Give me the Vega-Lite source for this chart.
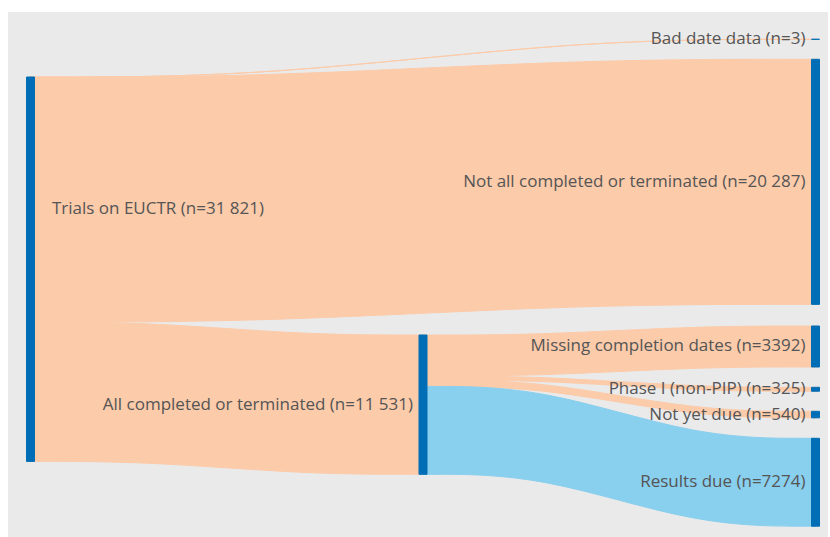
{
  "$schema": "https://vega.github.io/schema/vega-lite/v6.json",
  "width": 820,
  "height": 525,
  "autosize": {"type": "none"},
  "padding": {"left": 8, "top": 12, "right": 2, "bottom": 0},
  "background": "#ffffff",
  "config": {"view": {"stroke": null, "fill": "#eaeaea"}},
  "datasets": {
    "links": [
      {"link": "bad", "kind": "peach", "x": 0, "top": 0, "bottom": 3},
      {"link": "bad", "kind": "peach", "x": 0.6, "top": 0, "bottom": 3},
      {"link": "bad", "kind": "peach", "x": 1.4, "top": -3121, "bottom": -3118},
      {"link": "bad", "kind": "peach", "x": 2, "top": -3121, "bottom": -3118},
      {"link": "notall", "kind": "peach", "x": 0, "top": 3, "bottom": 20290},
      {"link": "notall", "kind": "peach", "x": 0.6, "top": 3, "bottom": 20290},
      {"link": "notall", "kind": "peach", "x": 1.4, "top": -1465, "bottom": 18822},
      {"link": "notall", "kind": "peach", "x": 2, "top": -1465, "bottom": 18822},
      {"link": "all", "kind": "peach", "x": 0, "top": 20290, "bottom": 31821},
      {"link": "all", "kind": "peach", "x": 0.3, "top": 20290, "bottom": 31821},
      {"link": "all", "kind": "peach", "x": 0.7, "top": 21358, "bottom": 32889},
      {"link": "all", "kind": "peach", "x": 1, "top": 21358, "bottom": 32889},
      {"link": "missing", "kind": "peach", "x": 1, "top": 21358, "bottom": 24750},
      {"link": "missing", "kind": "peach", "x": 1.3, "top": 21358, "bottom": 24750},
      {"link": "missing", "kind": "peach", "x": 1.7, "top": 20613, "bottom": 24005},
      {"link": "missing", "kind": "peach", "x": 2, "top": 20613, "bottom": 24005},
      {"link": "phase", "kind": "peach", "x": 1, "top": 24750, "bottom": 25075},
      {"link": "phase", "kind": "peach", "x": 1.3, "top": 24750, "bottom": 25075},
      {"link": "phase", "kind": "peach", "x": 1.7, "top": 25687, "bottom": 26012},
      {"link": "phase", "kind": "peach", "x": 2, "top": 25687, "bottom": 26012},
      {"link": "notyet", "kind": "peach", "x": 1, "top": 25075, "bottom": 25615},
      {"link": "notyet", "kind": "peach", "x": 1.3, "top": 25075, "bottom": 25615},
      {"link": "notyet", "kind": "peach", "x": 1.7, "top": 27674, "bottom": 28214},
      {"link": "notyet", "kind": "peach", "x": 2, "top": 27674, "bottom": 28214},
      {"link": "results", "kind": "blue", "x": 1, "top": 25615, "bottom": 32889},
      {"link": "results", "kind": "blue", "x": 1.3, "top": 25615, "bottom": 32889},
      {"link": "results", "kind": "blue", "x": 1.7, "top": 29909, "bottom": 37183},
      {"link": "results", "kind": "blue", "x": 2, "top": 29909, "bottom": 37183}
    ],
    "nodes": [
      {"label": "Trials on EUCTR (n=31 821)", "stage": 0, "y0": 0, "y1": 31821, "ly": 10927},
      {"label": "Bad date data (n=3)", "stage": 2, "y0": -3121, "y1": -3118, "ly": -3120},
      {"label": "Not all completed or terminated (n=20 287)", "stage": 2, "y0": -1465, "y1": 18822, "ly": 8678},
      {"label": "All completed or terminated (n=11 531)", "stage": 1, "y0": 21358, "y1": 32889, "ly": 27123},
      {"label": "Missing completion dates (n=3392)", "stage": 2, "y0": 20613, "y1": 24005, "ly": 22309},
      {"label": "Phase I (non-PIP) (n=325)", "stage": 2, "y0": 25687, "y1": 26012, "ly": 25850},
      {"label": "Not yet due (n=540)", "stage": 2, "y0": 27674, "y1": 28214, "ly": 27944},
      {"label": "Results due (n=7274)", "stage": 2, "y0": 29909, "y1": 37183, "ly": 33546}
    ]
  },
  "layer": [
    {
      "data": {"name": "links"},
      "mark": {"type": "area", "interpolate": "basis", "strokeWidth": 1},
      "encoding": {
        "x": {"field": "x", "type": "quantitative", "scale": {"domain": [-0.057325, 2.031847], "nice": false, "zero": false, "padding": 0}, "axis": null},
        "y": {"field": "top", "type": "quantitative", "scale": {"domain": [-5381, 38079], "nice": false, "zero": false, "reverse": true, "padding": 0}, "axis": null},
        "y2": {"field": "bottom"},
        "detail": {"field": "link"},
        "fill": {"field": "kind", "type": "nominal", "scale": {"domain": ["peach", "blue"], "range": ["#fccbaa", "#89cfee"]}, "legend": null},
        "stroke": {"field": "kind", "type": "nominal", "scale": {"domain": ["peach", "blue"], "range": ["#fccbaa", "#89cfee"]}, "legend": null}
      }
    },
    {
      "data": {"name": "nodes"},
      "mark": {"type": "bar", "size": 8, "color": "#006eb6", "stroke": "#006eb6", "strokeWidth": 1},
      "encoding": {
        "x": {"field": "stage", "type": "quantitative", "scale": {"domain": [-0.057325, 2.031847], "nice": false, "zero": false, "padding": 0}, "axis": null},
        "y": {"field": "y0", "type": "quantitative", "scale": {"domain": [-5381, 38079], "nice": false, "zero": false, "reverse": true, "padding": 0}, "axis": null},
        "y2": {"field": "y1"}
      }
    },
    {
      "data": {"name": "nodes"},
      "transform": [{"filter": "datum.stage == 0"}],
      "mark": {"type": "text", "align": "left", "baseline": "middle", "dx": 21.5, "font": "Open Sans", "fontSize": 17, "color": "#555555"},
      "encoding": {
        "x": {"field": "stage", "type": "quantitative"},
        "y": {"field": "ly", "type": "quantitative"},
        "text": {"field": "label"}
      }
    },
    {
      "data": {"name": "nodes"},
      "transform": [{"filter": "datum.stage > 0"}],
      "mark": {"type": "text", "align": "right", "baseline": "middle", "dx": -10, "font": "Open Sans", "fontSize": 17, "color": "#555555"},
      "encoding": {
        "x": {"field": "stage", "type": "quantitative"},
        "y": {"field": "ly", "type": "quantitative"},
        "text": {"field": "label"}
      }
    }
  ]
}
